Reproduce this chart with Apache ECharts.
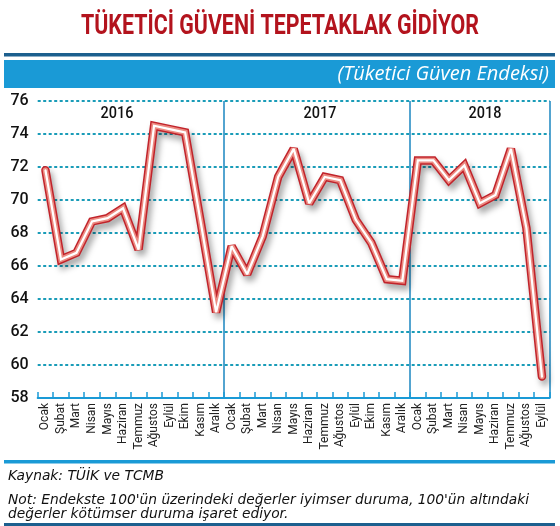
<!DOCTYPE html>
<html>
<head>
<meta charset="utf-8">
<script src="https://cdn.jsdelivr.net/npm/echarts@6/dist/echarts.min.js"></script>
<style>
html,body{margin:0;padding:0;background:#fff;}
#chart{width:560px;height:526px;}
</style>
</head>
<body>
<div id="chart"></div>
<script>
var categories = [
  'Ocak','Şubat','Mart','Nisan','Mayıs','Haziran','Temmuz','Ağustos','Eylül','Ekim','Kasım','Aralık',
  'Ocak','Şubat','Mart','Nisan','Mayıs','Haziran','Temmuz','Ağustos','Eylül','Ekim','Kasım','Aralık',
  'Ocak','Şubat','Mart','Nisan','Mayıs','Haziran','Temmuz','Ağustos','Eylül'
];
var values2016 = [71.8, 66.4, 66.8, 68.7, 68.9, 69.5, 67.0, 74.5, 74.3, 74.1, 68.7, 63.2];
var values2017 = [67.2, 65.5, 67.8, 71.4, 73.1, 69.8, 71.4, 71.2, 68.8, 67.4, 65.2, 65.1];
var values2018 = [72.4, 72.4, 71.2, 72.1, 69.8, 70.3, 73.1, 68.3, 59.3];
var yearLabels = ['2016', '2017', '2018'];
var yearStartIndex = [0, 12, 24];
var yMin = 58, yMax = 76, yStep = 2;

var title = 'TÜKETİCİ GÜVENİ TEPETAKLAK GİDİYOR';
var subtitle = '(Tüketici Güven Endeksi)';
var source = 'Kaynak: TÜİK ve TCMB';
var note1 = "Not: Endekste 100'ün üzerindeki değerler iyimser duruma, 100'ün altındaki";
var note2 = 'değerler kötümser duruma işaret ediyor.';

var values = values2016.concat(values2017, values2018);

var labelFont = 'Roboto, "Noto Sans", sans-serif';
var footFont = '"DejaVu Sans", sans-serif';
var lightBlue = '#1a9ad6';
var darkBlue = '#1c5f8e';

var chart = echarts.init(document.getElementById('chart'), null, {renderer: 'canvas'});

var grid = {left: 37.7, right: 10.3, top: 101, bottom: 128};

function lineLayer(width, color, z, shadow) {
  var ls = {width: width, color: color, join: 'miter', miterLimit: 2, cap: 'round'};
  if (shadow) {
    ls.shadowColor = 'rgba(0,0,0,0.35)';
    ls.shadowBlur = 6;
    ls.shadowOffsetX = 3;
    ls.shadowOffsetY = 5;
  }
  return {
    type: 'line', data: values, symbol: 'none', z: z,
    lineStyle: ls, silent: true, animation: false
  };
}

var option = {
  animation: false,
  grid: grid,
  xAxis: {
    type: 'category',
    data: categories,
    boundaryGap: true,
    axisLine: {lineStyle: {color: lightBlue, width: 2}},
    axisTick: {show: true, inside: true, length: 6, interval: 0, lineStyle: {color: lightBlue, width: 1.5}},
    axisLabel: {
      interval: 0, rotate: 90, margin: 5,
      fontFamily: labelFont, fontSize: 12, color: '#222'
    },
    splitLine: {
      show: true,
      interval: function (index) { return yearStartIndex.indexOf(index) > 0; },
      lineStyle: {color: '#1a86c0', width: 1.5, type: 'solid'}
    }
  },
  yAxis: {
    type: 'value',
    min: yMin, max: yMax, interval: yStep,
    axisLine: {show: false},
    axisTick: {show: false},
    axisLabel: {fontFamily: labelFont, fontSize: 16, fontWeight: 500, color: '#111', margin: 9},
    splitLine: {lineStyle: {color: '#1a9cb8', width: 2, type: [3, 2.5]}}
  },
  series: [
    lineLayer(8.5, '#c1232b', 3, true),
    lineLayer(5.5, '#ec8b82', 4, false),
    lineLayer(2.2, '#ffffff', 5, false)
  ]
};

chart.setOption(option);

// fit the condensed-looking title into its target width
var titleFont = 'bold 27px Roboto, "Noto Sans", sans-serif';
var mctx = document.createElement('canvas').getContext('2d');
mctx.font = titleFont;
var titleScale = 398 / mctx.measureText(title).width;

var yearY = 114;
var yearX = [117, 320, 485];
var g = [
  {type: 'text', x: 280, y: 27, scaleX: titleScale, style: {
    text: title, fill: '#b3131d', align: 'center', verticalAlign: 'middle',
    font: titleFont
  }},
  {type: 'rect', shape: {x: 4, y: 53, width: 551, height: 3.5}, style: {fill: darkBlue}},
  {type: 'rect', shape: {x: 4, y: 60, width: 551, height: 28}, style: {fill: lightBlue}},
  {type: 'text', x: 549, y: 74, style: {
    text: subtitle, fill: '#ffffff', align: 'right', verticalAlign: 'middle',
    font: 'italic 20px "Open Sans", sans-serif'
  }},
  {type: 'rect', shape: {x: 4, y: 460, width: 551, height: 3.5}, style: {fill: lightBlue}},
  {type: 'text', x: 8, y: 476, style: {
    text: source, fill: '#111', align: 'left', verticalAlign: 'middle',
    font: 'italic 13.8px ' + footFont
  }},
  {type: 'text', x: 8, y: 500, style: {
    text: note1, fill: '#111', align: 'left', verticalAlign: 'middle',
    font: 'italic 13.8px ' + footFont
  }},
  {type: 'text', x: 8, y: 514, style: {
    text: note2, fill: '#111', align: 'left', verticalAlign: 'middle',
    font: 'italic 13.8px ' + footFont
  }},
  {type: 'rect', shape: {x: 4, y: 523, width: 551, height: 3.5}, style: {fill: darkBlue}}
];
yearLabels.forEach(function (lbl, i) {
  g.push({type: 'text', x: yearX[i], y: yearY, z: 10, scaleX: 0.85, style: {
    text: lbl, fill: '#111', align: 'center', verticalAlign: 'middle',
    font: '500 17px ' + labelFont
  }});
});
chart.setOption({graphic: g});
</script>
</body>
</html>
